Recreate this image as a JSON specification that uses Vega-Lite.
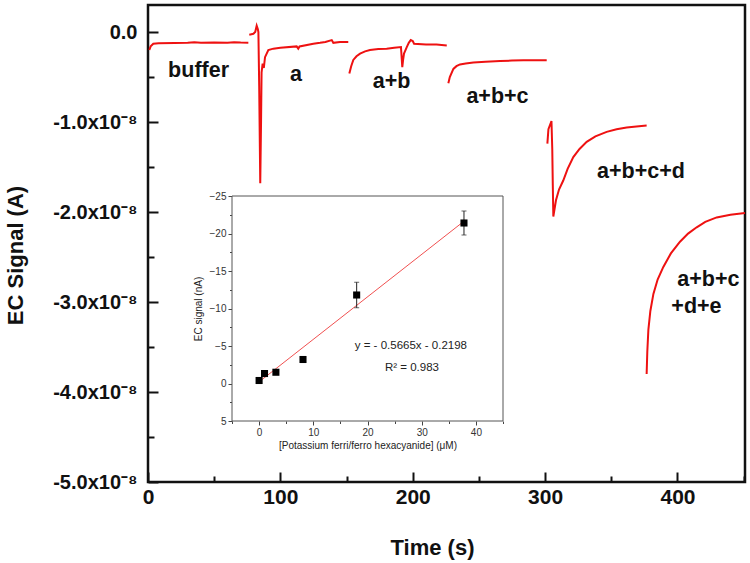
{
  "$schema": "https://vega.github.io/schema/vega-lite/v6.json",
  "width": 597,
  "height": 477,
  "autosize": "none",
  "padding": {"left": 148, "top": 5, "right": 5, "bottom": 81},
  "background": "white",
  "config": {
    "view": {"stroke": "#111", "strokeWidth": 2.5},
    "font": "Liberation Sans",
    "axis": {"grid": false}
  },
  "datasets": {
    "trace": [
      {"seg": 1, "t": 1, "s": -0.2}, {"seg": 1, "t": 2, "s": -0.16}, {"seg": 1, "t": 4, "s": -0.13}, {"seg": 1, "t": 8, "s": -0.125}, {"seg": 1, "t": 20, "s": -0.122}, {"seg": 1, "t": 30, "s": -0.12}, {"seg": 1, "t": 35, "s": -0.113}, {"seg": 1, "t": 40, "s": -0.12}, {"seg": 1, "t": 50, "s": -0.117}, {"seg": 1, "t": 60, "s": -0.12}, {"seg": 1, "t": 65, "s": -0.114}, {"seg": 1, "t": 70, "s": -0.118}, {"seg": 1, "t": 75.8, "s": -0.12},
      {"seg": 2, "t": 76.5, "s": -0.03}, {"seg": 2, "t": 79.6, "s": -0.02}, {"seg": 2, "t": 81, "s": 0.0}, {"seg": 2, "t": 82.1, "s": 0.07}, {"seg": 2, "t": 83, "s": 0.03}, {"seg": 2, "t": 83.4, "s": 0.0}, {"seg": 2, "t": 84, "s": -0.6}, {"seg": 2, "t": 84.8, "s": -1.68}, {"seg": 2, "t": 85.4, "s": -1.0}, {"seg": 2, "t": 85.8, "s": -0.45}, {"seg": 2, "t": 86.6, "s": -0.35}, {"seg": 2, "t": 87.5, "s": -0.4}, {"seg": 2, "t": 88.4, "s": -0.28}, {"seg": 2, "t": 90.9, "s": -0.2}, {"seg": 2, "t": 94.7, "s": -0.185}, {"seg": 2, "t": 100, "s": -0.175}, {"seg": 2, "t": 112.3, "s": -0.16}, {"seg": 2, "t": 113.5, "s": -0.185}, {"seg": 2, "t": 114.5, "s": -0.16}, {"seg": 2, "t": 124.9, "s": -0.13}, {"seg": 2, "t": 130, "s": -0.12}, {"seg": 2, "t": 134, "s": -0.11}, {"seg": 2, "t": 138.8, "s": -0.09}, {"seg": 2, "t": 140, "s": -0.12}, {"seg": 2, "t": 145, "s": -0.11}, {"seg": 2, "t": 151.3, "s": -0.11},
      {"seg": 3, "t": 152.1, "s": -0.46}, {"seg": 3, "t": 153.5, "s": -0.38}, {"seg": 3, "t": 155.1, "s": -0.31}, {"seg": 3, "t": 157.5, "s": -0.27}, {"seg": 3, "t": 160.2, "s": -0.24}, {"seg": 3, "t": 164, "s": -0.215}, {"seg": 3, "t": 167.7, "s": -0.2}, {"seg": 3, "t": 174, "s": -0.19}, {"seg": 3, "t": 180.3, "s": -0.185}, {"seg": 3, "t": 186, "s": -0.175}, {"seg": 3, "t": 191.1, "s": -0.167}, {"seg": 3, "t": 192.1, "s": -0.39}, {"seg": 3, "t": 192.8, "s": -0.3}, {"seg": 3, "t": 193.4, "s": -0.24}, {"seg": 3, "t": 195.4, "s": -0.17}, {"seg": 3, "t": 197, "s": -0.12}, {"seg": 3, "t": 198.5, "s": -0.09}, {"seg": 3, "t": 200, "s": -0.1}, {"seg": 3, "t": 201, "s": -0.13}, {"seg": 3, "t": 210, "s": -0.14}, {"seg": 3, "t": 218, "s": -0.14}, {"seg": 3, "t": 225.7, "s": -0.15},
      {"seg": 4, "t": 226.9, "s": -0.57}, {"seg": 4, "t": 228, "s": -0.5}, {"seg": 4, "t": 230.7, "s": -0.41}, {"seg": 4, "t": 233, "s": -0.38}, {"seg": 4, "t": 235.7, "s": -0.36}, {"seg": 4, "t": 240, "s": -0.35}, {"seg": 4, "t": 245.8, "s": -0.34}, {"seg": 4, "t": 255, "s": -0.33}, {"seg": 4, "t": 266, "s": -0.322}, {"seg": 4, "t": 275, "s": -0.318}, {"seg": 4, "t": 283.5, "s": -0.314}, {"seg": 4, "t": 292, "s": -0.314}, {"seg": 4, "t": 301.2, "s": -0.314},
      {"seg": 5, "t": 301.7, "s": -1.24}, {"seg": 5, "t": 302.5, "s": -1.08}, {"seg": 5, "t": 304.8, "s": -0.99}, {"seg": 5, "t": 305.4, "s": -1.3}, {"seg": 5, "t": 305.8, "s": -1.7}, {"seg": 5, "t": 306.2, "s": -2.05}, {"seg": 5, "t": 308.2, "s": -1.87}, {"seg": 5, "t": 310.5, "s": -1.75}, {"seg": 5, "t": 313.7, "s": -1.65}, {"seg": 5, "t": 317, "s": -1.52}, {"seg": 5, "t": 321.3, "s": -1.39}, {"seg": 5, "t": 326, "s": -1.3}, {"seg": 5, "t": 331.4, "s": -1.22}, {"seg": 5, "t": 338, "s": -1.16}, {"seg": 5, "t": 346.5, "s": -1.11}, {"seg": 5, "t": 354, "s": -1.08}, {"seg": 5, "t": 361.6, "s": -1.06}, {"seg": 5, "t": 369, "s": -1.05}, {"seg": 5, "t": 376.7, "s": -1.04},
      {"seg": 6, "t": 376.7, "s": -3.8}, {"seg": 6, "t": 377.2, "s": -3.55}, {"seg": 6, "t": 378, "s": -3.31}, {"seg": 6, "t": 379.5, "s": -3.1}, {"seg": 6, "t": 381.8, "s": -2.91}, {"seg": 6, "t": 385, "s": -2.75}, {"seg": 6, "t": 389.3, "s": -2.61}, {"seg": 6, "t": 395, "s": -2.46}, {"seg": 6, "t": 401.9, "s": -2.33}, {"seg": 6, "t": 408, "s": -2.24}, {"seg": 6, "t": 414.5, "s": -2.17}, {"seg": 6, "t": 421, "s": -2.11}, {"seg": 6, "t": 429.6, "s": -2.06}, {"seg": 6, "t": 440, "s": -2.03}, {"seg": 6, "t": 451, "s": -2.01}
    ],
    "labels": [
      {"t": 38.2, "s": -0.437, "text": "buffer"},
      {"t": 111.8, "s": -0.481, "text": "a"},
      {"t": 184, "s": -0.556, "text": "a+b"},
      {"t": 264, "s": -0.722, "text": "a+b+c"},
      {"t": 372.4, "s": -1.556, "text": "a+b+c+d"},
      {"t": 423.3, "s": -2.75, "text": "a+b+c"},
      {"t": 414.3, "s": -3.056, "text": "+d+e"}
    ],
    "frame": [{"x": -5, "x2": 45, "y": -25, "y2": 5}],
    "fit": [{"x": 0, "y": -0.22}, {"x": 38, "y": -21.75}],
    "points": [
      {"x": 0, "y": -0.4},
      {"x": 1, "y": -1.33},
      {"x": 3.1, "y": -1.5},
      {"x": 8.1, "y": -3.2},
      {"x": 18, "y": -11.8},
      {"x": 37.8, "y": -21.4}
    ],
    "errs": [
      {"x": 18, "lo": -13.5, "hi": -10.1},
      {"x": 37.8, "lo": -23.0, "hi": -19.8}
    ],
    "insetText": [
      {"x": 28, "y": -5.0, "text": "y = - 0.5665x - 0.2198"},
      {"x": 28.2, "y": -2.1, "text": "R² = 0.983"}
    ]
  },
  "layer": [
    {
      "layer": [
        {
          "data": {"name": "trace"},
          "mark": {"type": "line", "color": "#ee1111", "strokeWidth": 2, "interpolate": "linear"},
          "encoding": {
            "x": {"field": "t", "type": "quantitative", "scale": {"domain": [0, 451], "nice": false, "zero": false},
              "axis": {"orient": "bottom", "values": [0, 100, 200, 300, 400], "domain": false, "tickSize": -10, "tickWidth": 2, "tickColor": "#111",
                "labelFontSize": 21, "labelFontWeight": "bold", "labelColor": "#111", "labelPadding": 14, "labelFlush": false,
                "title": "Time (s)", "titleFontSize": 22, "titleFontWeight": "bold", "titleColor": "#111", "titlePadding": 30, "titleX": 284}},
            "y": {"field": "s", "type": "quantitative", "scale": {"domain": [-5, 0.3], "nice": false, "zero": false},
              "axis": {"orient": "left", "values": [-5, -4, -3, -2, -1, 0], "domain": false, "tickSize": -10, "tickWidth": 2, "tickColor": "#111",
                "labelExpr": "datum.value == 0 ? '0.0' : '-' + format(abs(datum.value), '.1f') + 'x10⁻⁸'",
                "labelFontSize": 20, "labelFontWeight": "bold", "labelColor": "#111", "labelPadding": 21, "labelFlush": false,
                "title": "EC Signal (A)", "titleFontSize": 22, "titleFontWeight": "bold", "titleColor": "#111", "titlePadding": 25, "titleY": 250}},
            "detail": {"field": "seg", "type": "nominal"}
          }
        },
        {
          "data": {"name": "labels"},
          "mark": {"type": "text", "fontSize": 21.5, "fontWeight": "bold", "color": "#111", "align": "center", "baseline": "middle"},
          "encoding": {
            "x": {"field": "t", "type": "quantitative",
              "axis": {"orient": "bottom", "values": [50, 150, 250, 350, 450], "domain": false, "labels": false, "tickSize": -6, "tickWidth": 2, "tickColor": "#111", "title": null}},
            "y": {"field": "s", "type": "quantitative",
              "axis": {"orient": "left", "values": [-4.5, -3.5, -2.5, -1.5, -0.5], "domain": false, "labels": false, "tickSize": -6, "tickWidth": 2, "tickColor": "#111", "title": null}},
            "text": {"field": "text", "type": "nominal"}
          }
        }
      ],
      "resolve": {"axis": {"x": "independent", "y": "independent"}}
    },
    {
      "layer": [
        {
          "data": {"name": "frame"},
          "mark": {"type": "rect", "fill": "white", "stroke": "#555", "strokeWidth": 1},
          "encoding": {
            "x": {"field": "x", "type": "quantitative", "scale": {"domain": [-5, 45], "range": [84, 355], "nice": false, "zero": false},
              "axis": {"orient": "bottom", "offset": -61, "values": [0, 10, 20, 30, 40], "domain": false, "tickSize": 4, "tickColor": "#444",
                "labelFontSize": 10, "labelColor": "#333", "labelPadding": 2, "labelFlush": false,
                "title": "[Potassium ferri/ferro hexacyanide] (μM)", "titleFontSize": 10, "titleFontWeight": "normal", "titleColor": "#222", "titlePadding": 3}},
            "x2": {"field": "x2"},
            "y": {"field": "y", "type": "quantitative", "scale": {"domain": [-25, 5], "range": [191, 416], "nice": false, "zero": false},
              "axis": {"orient": "left", "offset": -84, "values": [-25, -20, -15, -10, -5, 0, 5], "domain": false, "tickSize": 4, "tickColor": "#444",
                "labelFontSize": 10, "labelColor": "#333", "labelPadding": 2, "labelFlush": false,
                "title": "EC signal (nA)", "titleFontSize": 10, "titleFontWeight": "normal", "titleColor": "#222", "titlePadding": 6}},
            "y2": {"field": "y2"}
          }
        },
        {
          "data": {"name": "fit"},
          "mark": {"type": "line", "color": "#f05050", "strokeWidth": 1},
          "encoding": {
            "x": {"field": "x", "type": "quantitative",
              "axis": {"orient": "bottom", "offset": -61, "values": [-5, 5, 15, 25, 35, 45], "domain": false, "labels": false, "tickSize": 2.5, "tickColor": "#444", "title": null}},
            "y": {"field": "y", "type": "quantitative",
              "axis": {"orient": "left", "offset": -84, "values": [-22.5, -17.5, -12.5, -7.5, -2.5, 2.5], "domain": false, "labels": false, "tickSize": 2.5, "tickColor": "#444", "title": null}}
          }
        },
        {
          "data": {"name": "errs"},
          "mark": {"type": "rule", "color": "#222", "strokeWidth": 1},
          "encoding": {
            "x": {"field": "x", "type": "quantitative", "axis": null},
            "y": {"field": "lo", "type": "quantitative", "axis": null},
            "y2": {"field": "hi"}
          }
        },
        {
          "data": {"name": "errs"},
          "transform": [{"fold": ["lo", "hi"], "as": ["end", "v"]}],
          "mark": {"type": "tick", "orient": "horizontal", "color": "#222", "size": 5, "thickness": 1},
          "encoding": {
            "x": {"field": "x", "type": "quantitative", "axis": null},
            "y": {"field": "v", "type": "quantitative", "axis": null}
          }
        },
        {
          "data": {"name": "points"},
          "mark": {"type": "point", "shape": "square", "filled": true, "color": "#000", "size": 50, "opacity": 1},
          "encoding": {
            "x": {"field": "x", "type": "quantitative", "axis": null},
            "y": {"field": "y", "type": "quantitative", "axis": null}
          }
        },
        {
          "data": {"name": "insetText"},
          "mark": {"type": "text", "fontSize": 11.5, "color": "#222", "align": "center", "baseline": "middle"},
          "encoding": {
            "x": {"field": "x", "type": "quantitative", "axis": null},
            "y": {"field": "y", "type": "quantitative", "axis": null},
            "text": {"field": "text", "type": "nominal"}
          }
        }
      ],
      "resolve": {"axis": {"x": "independent", "y": "independent"}}
    }
  ],
  "resolve": {"scale": {"x": "independent", "y": "independent"}, "axis": {"x": "independent", "y": "independent"}}
}
